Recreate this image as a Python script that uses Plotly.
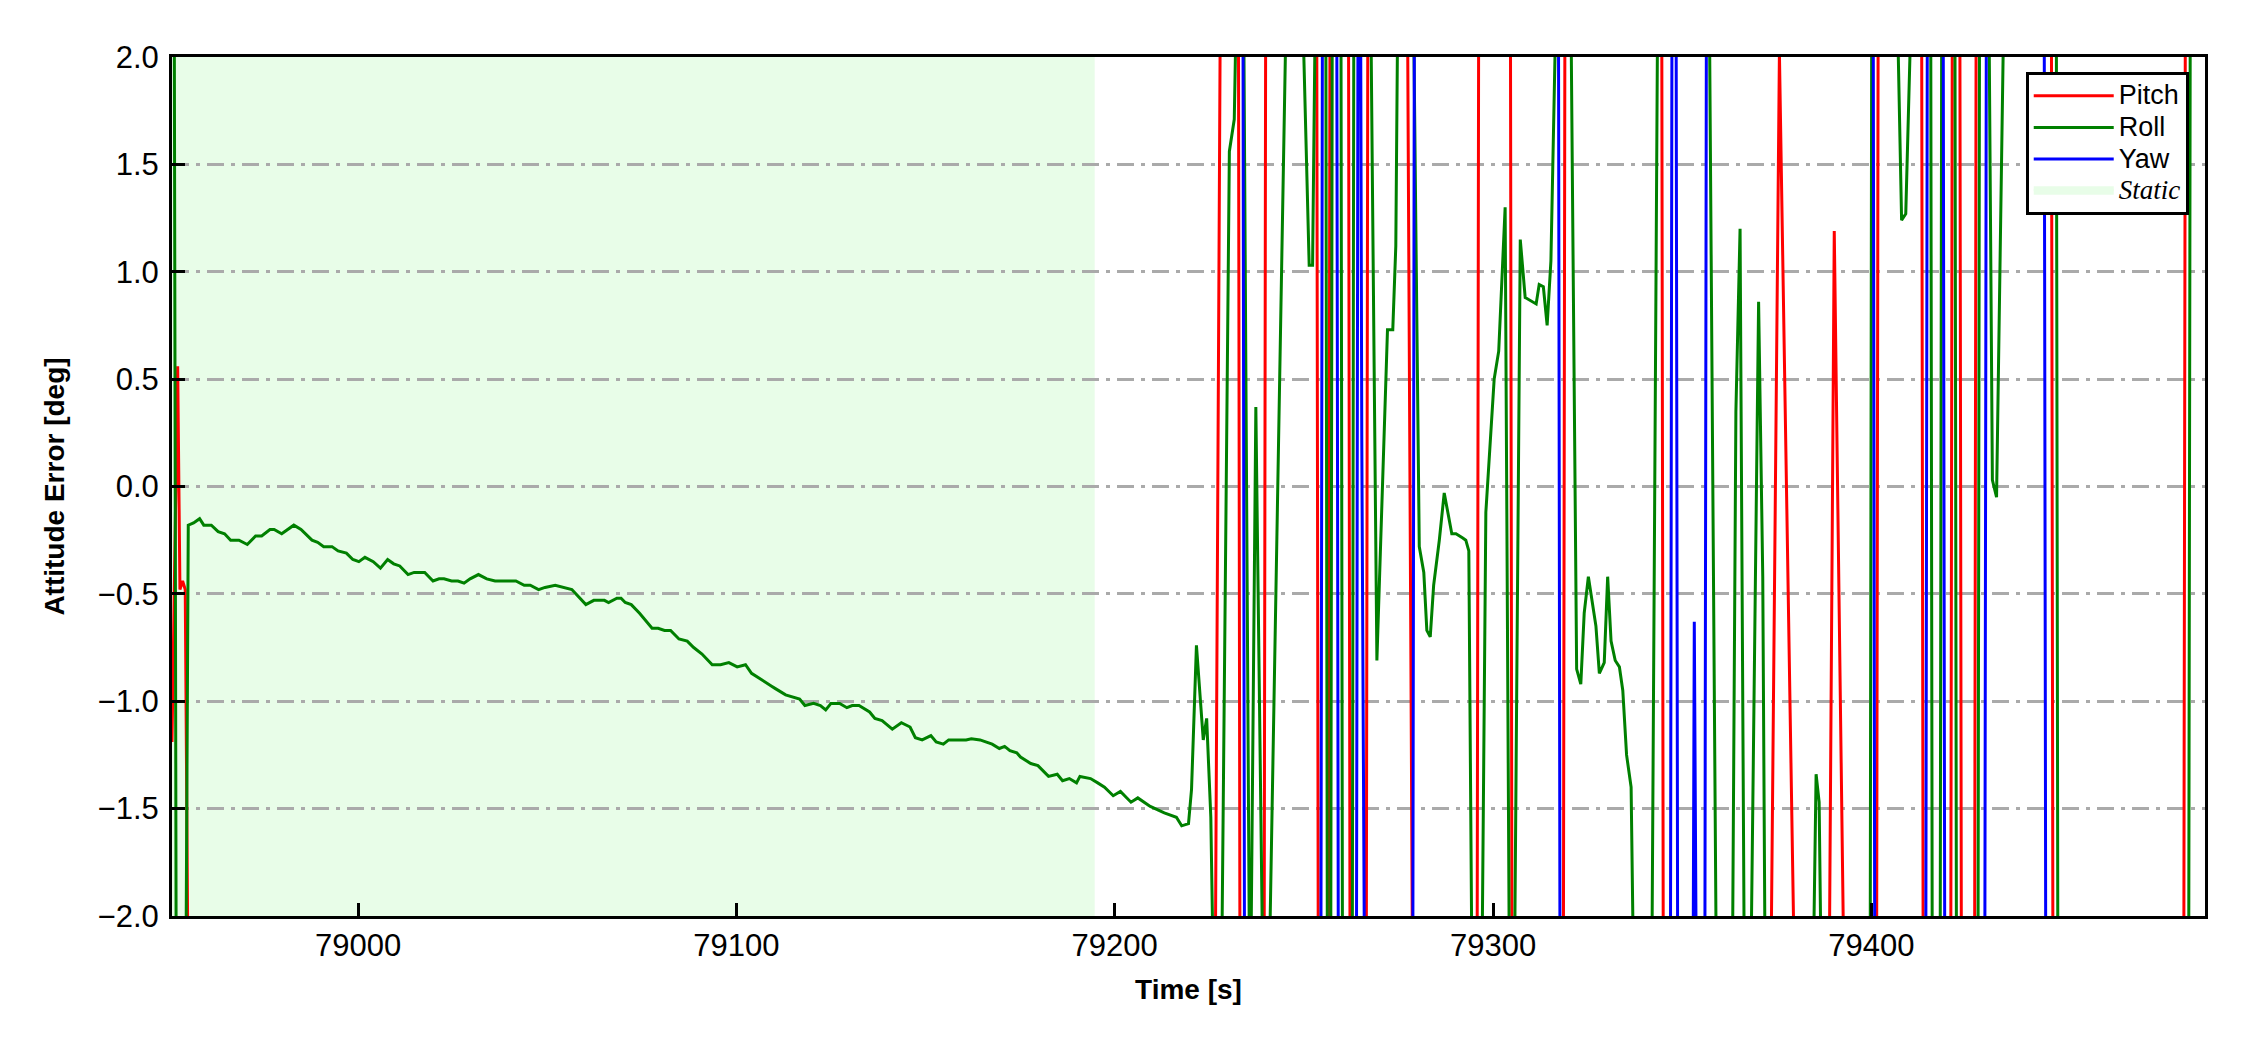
import plotly.graph_objects as go

# ---------------- data ----------------
time_pitch = [78950.8, 78952.3, 78952.9, 78953.6, 78954.3, 78955.0,
              79226.6, 79227.9, 79232.7, 79233.1, 79239.5, 79239.9,
              79253.4, 79253.8, 79256.5, 79256.9, 79261.8, 79262.2,
              79266.5, 79266.9, 79277.4, 79278.7, 79295.8, 79296.2,
              79304.6, 79305.0, 79318.6, 79319.0, 79344.6, 79345.0,
              79373.5, 79375.7, 79379.6, 79388.9, 79390.2, 79392.7,
              79401.4, 79401.8, 79413.3, 79413.7, 79421.0, 79421.4,
              79423.4, 79423.8, 79427.3, 79427.7, 79447.6, 79448.0,
              79482.6, 79483.0, 79488.2]
pitch = [-1.19, 0.56, -0.48, -0.44, -0.48, -2.2,
         -2.2, 2.2, 2.2, -2.2, -2.2, 2.2,
         2.2, -2.2, -2.2, 2.2, 2.2, -2.2,
         -2.2, 2.2, 2.2, -2.2, -2.2, 2.2,
         2.2, -2.2, -2.2, 2.2, 2.2, -2.2,
         -2.2, 2.02, -2.2, -2.2, 1.19, -2.2,
         -2.2, 2.2, 2.2, -2.2, -2.2, 2.2,
         2.2, -2.2, -2.2, 2.2, 2.2, -2.2,
         -2.2, 2.2, 2.2]

time_roll = [78950.8, 78951.4, 78951.9, 78954.5,
             78955.1, 78956.5, 78958.1, 78959.2, 78961.2, 78963.0, 78964.7, 78966.3,
             78968.5, 78970.7, 78972.9, 78974.5, 78976.7, 78977.8, 78979.8, 78981.3,
             78983.0, 78984.9, 78987.8, 78989.3, 78990.9, 78993.1, 78994.7, 78996.9,
             78998.6, 79000.2, 79001.8, 79004.0, 79005.9, 79007.8, 79009.4, 79011.0,
             79013.2, 79014.8, 79016.1, 79017.6, 79019.8, 79021.4, 79022.7, 79024.7,
             79026.4, 79028.0, 79029.6, 79031.8, 79034.0, 79036.2, 79038.9, 79041.7,
             79043.9, 79045.5, 79047.7, 79049.4, 79052.1, 79054.3, 79056.5, 79060.2,
             79062.3, 79065.1, 79066.2, 79068.4, 79069.5, 79070.6, 79072.2, 79074.4,
             79077.7, 79079.3, 79081.0, 79082.6, 79084.8, 79087.0, 79088.7, 79090.9,
             79093.6, 79095.8, 79098.0, 79100.2, 79102.4, 79104.0, 79106.5, 79109.3,
             79110.2, 79113.0, 79116.7, 79118.1, 79120.4, 79122.2, 79123.6, 79125.0,
             79127.3, 79129.2, 79130.6, 79132.4, 79135.2, 79136.6, 79138.5, 79141.2,
             79143.6, 79145.9, 79147.3, 79149.1, 79151.4, 79152.8, 79154.7, 79156.1,
             79160.7, 79162.1, 79164.4, 79167.6, 79169.5, 79170.9, 79172.3, 79174.1,
             79175.1, 79177.8, 79179.7, 79182.5, 79184.8, 79186.2, 79188.0, 79189.9,
             79190.8, 79193.6, 79195.5, 79197.3, 79199.6, 79201.5, 79204.3, 79206.1,
             79209.4, 79213.1, 79216.3, 79217.7, 79219.5, 79220.3, 79221.6, 79223.4,
             79224.3, 79225.4, 79226.0,
             79228.3, 79230.3, 79231.6, 79232.1, 79234.1, 79235.6, 79236.0, 79237.3,
             79239.1, 79240.9, 79245.3, 79249.7, 79251.4, 79252.3, 79253.0, 79255.8,
             79256.2, 79257.1, 79257.5, 79259.8, 79260.2, 79262.8, 79263.2, 79267.7,
             79269.3, 79272.1, 79273.5, 79274.3, 79274.8, 79279.0, 79280.5, 79281.7,
             79282.5, 79283.4, 79284.3, 79285.8, 79287.1, 79289.1, 79290.2, 79292.0,
             79292.8, 79293.6, 79294.4, 79297.1, 79298.1, 79300.3, 79301.5, 79303.2,
             79304.3, 79305.7, 79307.2, 79308.5, 79311.4, 79312.2, 79313.3, 79314.3,
             79315.3, 79316.6, 79320.6, 79322.1, 79323.2, 79324.1, 79325.2, 79327.2,
             79328.1, 79329.4, 79330.3, 79331.2, 79332.3, 79333.4, 79334.3, 79335.3,
             79336.5, 79337.1, 79342.0, 79343.5, 79357.2, 79359.0, 79363.3, 79364.2,
             79365.3, 79366.4, 79368.2, 79370.2, 79371.3, 79371.9, 79384.7, 79385.4,
             79386.2, 79386.7, 79399.7, 79400.1, 79406.9, 79408.0, 79409.1, 79410.5,
             79415.7, 79416.1, 79418.2, 79418.6, 79422.1, 79422.5, 79428.2, 79428.6,
             79431.1, 79432.0, 79433.1, 79435.0, 79448.9, 79449.3, 79483.9, 79484.3,
             79488.2]
roll = [2.2, 2.2, -2.2, -2.2,
        -0.18, -0.17, -0.15, -0.18, -0.18, -0.21, -0.22, -0.25,
        -0.25, -0.27, -0.23, -0.23, -0.20, -0.20, -0.22, -0.20,
        -0.18, -0.20, -0.25, -0.26, -0.28, -0.28, -0.30, -0.31,
        -0.34, -0.35, -0.33, -0.35, -0.38, -0.34, -0.36, -0.37,
        -0.41, -0.40, -0.40, -0.40, -0.44, -0.43, -0.43, -0.44,
        -0.44, -0.45, -0.43, -0.41, -0.43, -0.44, -0.44, -0.44,
        -0.46, -0.46, -0.48, -0.47, -0.46, -0.47, -0.48, -0.55,
        -0.53, -0.53, -0.54, -0.52, -0.52, -0.54, -0.55, -0.59,
        -0.66, -0.66, -0.67, -0.67, -0.71, -0.72, -0.75, -0.78,
        -0.83, -0.83, -0.82, -0.84, -0.83, -0.87, -0.90, -0.93,
        -0.94, -0.97, -0.99, -1.02, -1.01, -1.02, -1.04, -1.01,
        -1.01, -1.03, -1.02, -1.02, -1.05, -1.08, -1.09, -1.13,
        -1.10, -1.12, -1.17, -1.18, -1.16, -1.19, -1.20, -1.18,
        -1.18, -1.175, -1.18, -1.20, -1.22, -1.21, -1.23, -1.24,
        -1.26, -1.29, -1.30, -1.35, -1.34, -1.37, -1.36, -1.38,
        -1.35, -1.36, -1.38, -1.40, -1.44, -1.42, -1.47, -1.45,
        -1.49, -1.52, -1.54, -1.58, -1.57, -1.41, -0.74, -1.18,
        -1.08, -1.54, -2.2,
        -2.2, 1.56, 1.71, 2.2, 2.2, -2.2, -2.2, 0.37,
        -2.2, -2.2, 2.2, 2.2, 1.03, 1.03, 2.2, 2.2,
        -2.2, -2.2, 2.2, 2.2, -2.2, -2.2, 2.2, 2.2,
        -0.81, 0.73, 0.73, 1.12, 2.2, 2.2, -0.28, -0.40,
        -0.67, -0.70, -0.46, -0.25, -0.03, -0.22, -0.22, -0.24,
        -0.25, -0.30, -2.2, -2.2, -0.12, 0.50, 0.63, 1.30,
        -2.2, -2.2, 1.15, 0.88, 0.85, 0.94, 0.93, 0.75,
        1.05, 2.2, 2.2, -0.85, -0.92, -0.59, -0.42, -0.65,
        -0.87, -0.82, -0.42, -0.72, -0.81, -0.84, -0.95, -1.25,
        -1.40, -2.2, -2.2, 2.2, 2.2, -2.2, -2.2, 0.35,
        1.20, -2.2, -2.2, 0.86, -0.42, -2.2, -2.2, -1.34,
        -1.47, -2.2, -2.2, 2.2, 2.2, 1.24, 1.27, 2.2,
        2.2, -2.2, -2.2, 2.2, 2.2, -2.2, -2.2, 2.2,
        2.2, 0.03, -0.05, 2.2, 2.2, -2.2, -2.2, 2.2,
        2.2]

time_yaw = [78950.8, 79233.9, 79234.3, 79254.5, 79254.9, 79258.7, 79259.1,
            79263.9, 79264.3, 79265.0, 79265.3, 79266.0, 79278.8, 79279.2,
            79317.3, 79317.7, 79346.9, 79347.3, 79348.4, 79348.8, 79352.9,
            79353.2, 79353.7, 79356.0, 79356.4, 79400.5, 79400.9, 79414.4,
            79414.8, 79419.0, 79419.4, 79430.0, 79430.4, 79445.7, 79446.1,
            79488.2]
yaw = [2.2, 2.2, -2.2, -2.2, 2.2, 2.2, -2.2,
       -2.2, 2.2, 2.2, 0.24, -2.2, -2.2, 2.2,
       2.2, -2.2, -2.2, 2.2, 2.2, -2.2, -2.2,
       -0.63, -2.2, -2.2, 2.2, 2.2, -2.2, -2.2,
       2.2, 2.2, -2.2, -2.2, 2.2, 2.2, -2.2,
       -2.2]

static_window = [78950.8, 79194.7]
x_range = [78950.8, 79488.2]
y_range = [-2.0, 2.0]
x_tick_vals = [79000, 79100, 79200, 79300, 79400]
x_tick_text = ["79000", "79100", "79200", "79300", "79400"]
y_tick_vals = [-2.0, -1.5, -1.0, -0.5, 0.0, 0.5, 1.0, 1.5, 2.0]
y_tick_text = ["\u22122.0", "\u22121.5", "\u22121.0", "\u22120.5", "0.0",
               "0.5", "1.0", "1.5", "2.0"]
series_names = ["Pitch", "Roll", "Yaw", "Static"]

SANS = "Liberation Sans, Arial, Helvetica, sans-serif"
SERIF = "Liberation Serif, Times New Roman, serif"
STATIC_COLOR = "#E8FDE8"


def legend_label(text, family=SANS, italic=False):
    inner = f"<i>{text}</i>" if italic else text
    return f'<span style="font-family:{family};font-size:27px">{inner}</span>'


fig = go.Figure()
fig.add_trace(go.Scatter(x=time_pitch, y=pitch, mode="lines",
                         name=legend_label(series_names[0]),
                         line=dict(color="#FF0000", width=3)))
fig.add_trace(go.Scatter(x=time_roll, y=roll, mode="lines",
                         name=legend_label(series_names[1]),
                         line=dict(color="#008000", width=3)))
fig.add_trace(go.Scatter(x=time_yaw, y=yaw, mode="lines",
                         name=legend_label(series_names[2]),
                         line=dict(color="#0000FF", width=3)))
# legend entry for the static shading
fig.add_trace(go.Scatter(x=[None], y=[None], mode="lines", fill="toself",
                         fillcolor=STATIC_COLOR,
                         line=dict(color=STATIC_COLOR, width=5),
                         name=legend_label(series_names[3], SERIF, True)))

fig.add_shape(type="rect", xref="x", yref="paper",
              x0=static_window[0], x1=static_window[1], y0=0, y1=1,
              fillcolor=STATIC_COLOR, line=dict(width=0), layer="below")

# page body has an 8px margin: size the figure so that it fills the window
fig.update_layout(
    width=2234, height=1034,
    margin=dict(l=164, r=37, t=49, b=126),
    paper_bgcolor="white", plot_bgcolor="white",
    font=dict(family=SANS, size=31, color="black"),
    showlegend=True,
    legend=dict(x=0.992, y=0.9825, xanchor="right", yanchor="top",
                bgcolor="white", bordercolor="black", borderwidth=3,
                font=dict(family=SANS, size=22, color="black"),
                itemwidth=80, tracegroupgap=0),
)
fig.update_xaxes(range=x_range, tickmode="array", tickvals=x_tick_vals,
                 ticktext=x_tick_text, ticks="inside", ticklen=13, tickwidth=3,
                 tickcolor="black", showline=True, linecolor="black",
                 linewidth=3, mirror=True, showgrid=False, zeroline=False,
                 tickfont=dict(size=31),
                 title=dict(text="Time [s]", font=dict(size=28, weight="bold"),
                            standoff=18))
fig.update_yaxes(range=y_range, tickmode="array", tickvals=y_tick_vals,
                 ticktext=y_tick_text, ticks="inside", ticklen=13, tickwidth=3,
                 tickcolor="black", showline=True, linecolor="black",
                 linewidth=3, mirror=True, showgrid=True, gridcolor="#AAAAAA",
                 gridwidth=2.5, griddash="17px,7px,4px,7px", zeroline=False,
                 tickfont=dict(size=31), ticklabelstandoff=4,
                 title=dict(text="Attitude Error [deg]",
                            font=dict(size=28, weight="bold"), standoff=25))

fig.write_html("out.html")
